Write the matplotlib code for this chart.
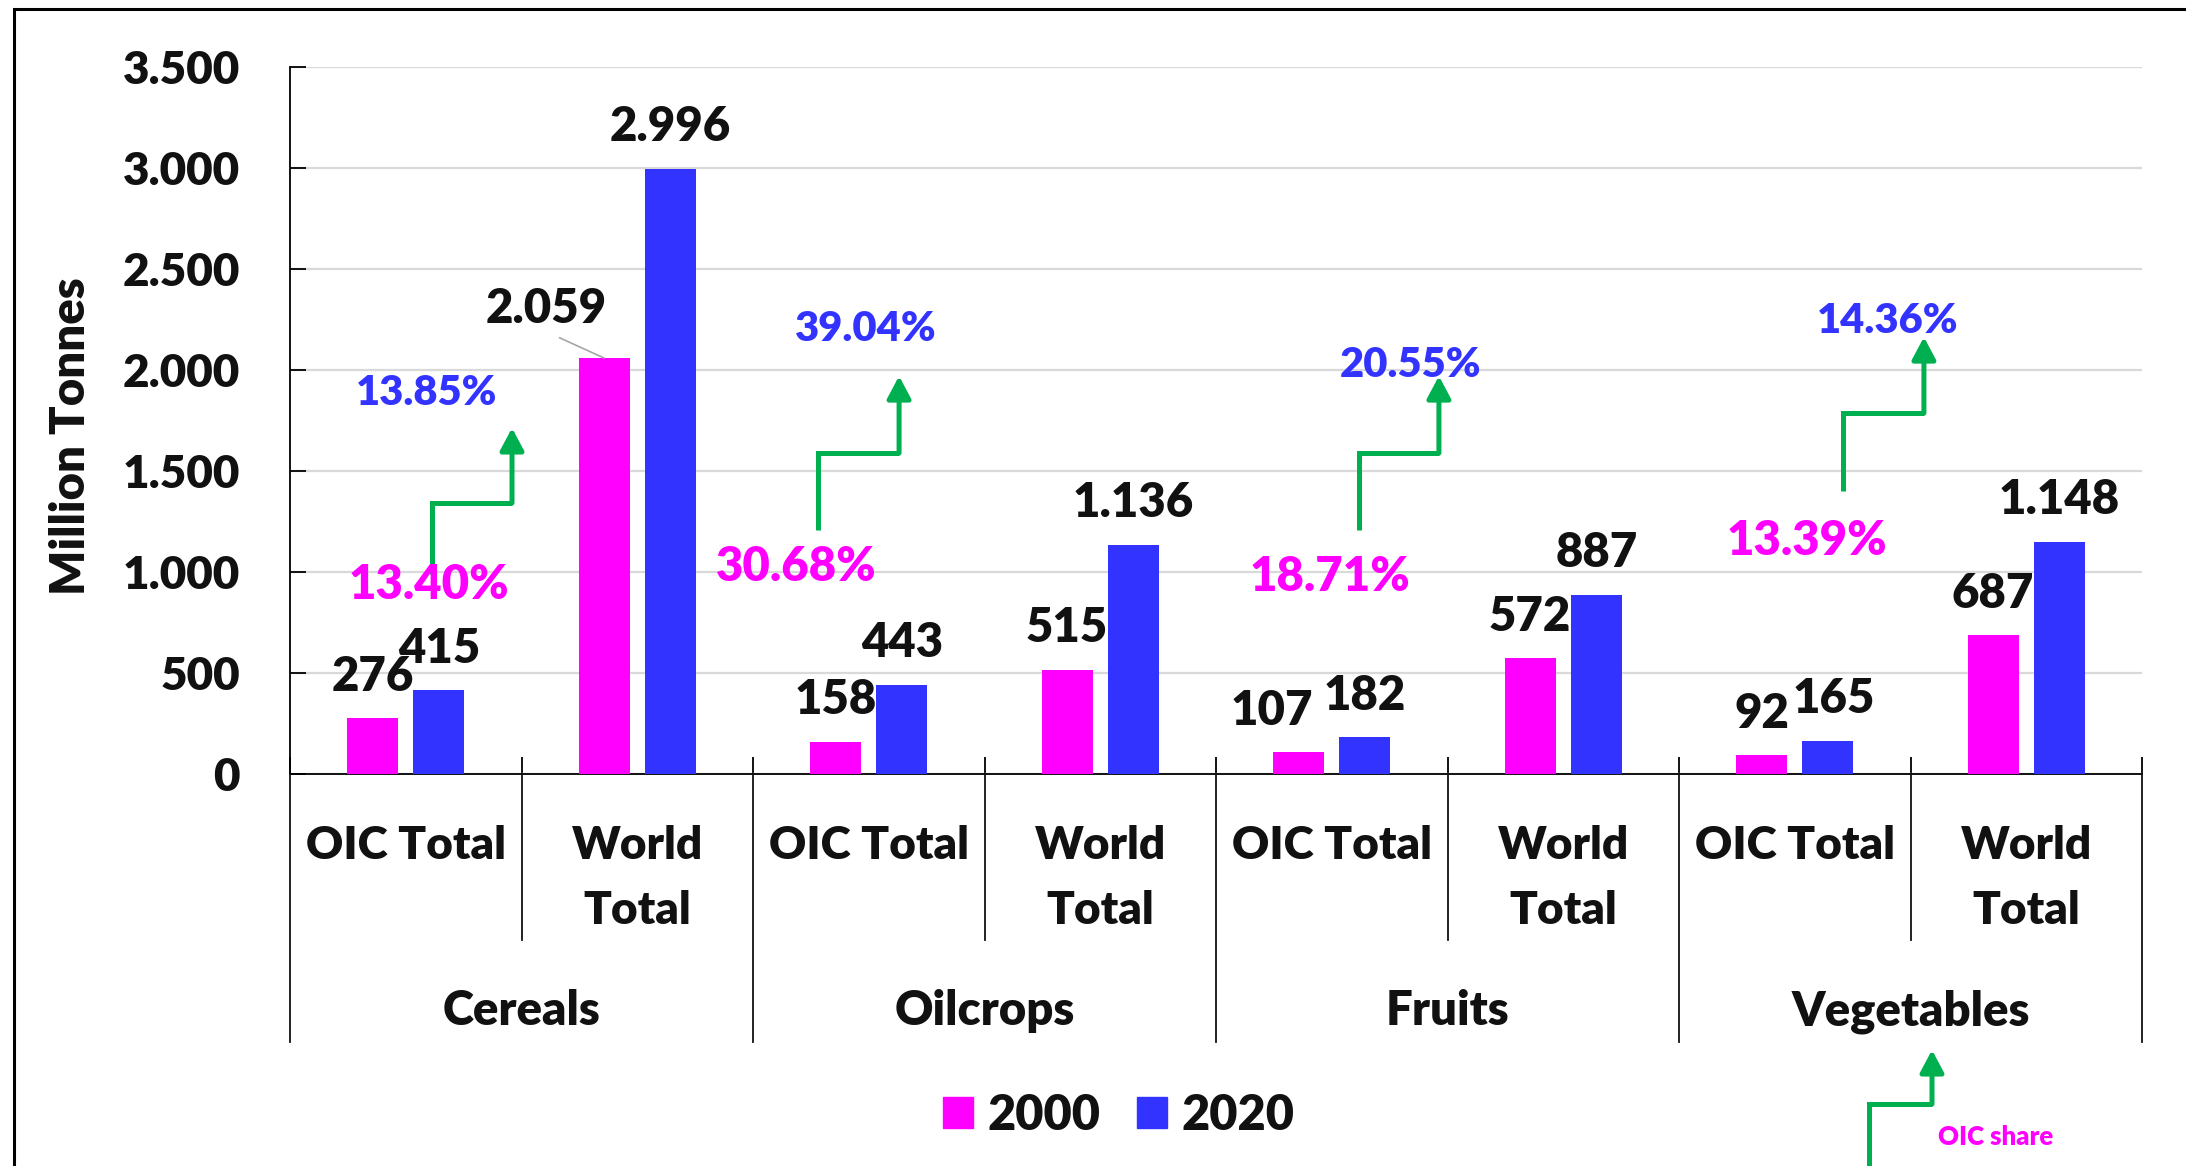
import matplotlib
matplotlib.use("Agg")
import matplotlib.pyplot as plt
import numpy as np
from matplotlib.lines import Line2D
from matplotlib.patches import FancyArrowPatch, Rectangle, Patch
from matplotlib.ticker import FuncFormatter, MultipleLocator
import matplotlib.transforms as mtransforms

plt.rcParams['font.family'] = ['Lato', 'DejaVu Sans']
plt.rcParams['font.weight'] = 'heavy'

# data
groups = ['Cereals', 'Oilcrops', 'Fruits', 'Vegetables']
subcats = ['OIC Total', 'World Total'] * 4
vals_2000 = [276, 2059, 158, 515, 107, 572, 92, 687]
vals_2020 = [415, 2996, 443, 1136, 182, 887, 165, 1148]
share_2000 = ['13.40%', '30.68%', '18.71%', '13.39%']
share_2020 = ['13.85%', '39.04%', '20.55%', '14.36%']
years = ['2000', '2020']

# annotation placement (x in category units, y in data units)
share_2000_pos = [(0.60, 936), (2.186, 1025), (4.492, 975), (6.553, 1153)]
share_2020_pos = [(0.592, 1886), (2.488, 2203), (4.842, 2025), (6.903, 2243)]
arrow_pts = [
    [(0.613, 990), (0.613, 1342), (0.959, 1342), (0.959, 1713)],
    [(2.281, 1208), (2.281, 1589), (2.631, 1589), (2.631, 1970)],
    [(4.618, 1208), (4.618, 1589), (4.963, 1589), (4.963, 1970)],
    [(6.708, 1401), (6.708, 1787), (7.058, 1787), (7.058, 2163)],
]
# label nudges in points (dx, dy) for 2000 / 2020 labels
nudge_2000 = [(0, 30), (-42, 35), (0, 30), (0, 30), (-19, 30), (0, 30), (0, 30), (0, 30)]
nudge_2020 = [(0, 30), (0, 30), (0, 30), (0, 30), (0, 30), (0, 30), (4, 30), (0, 30)]

c2000 = '#FF00FF'
c2020 = '#3333FF'
green = '#00B050'
txt = '#111111'

W, H = 2186, 1166
fig = plt.figure(figsize=(W / 100, H / 100), dpi=100)
ax = fig.add_axes([290 / W, 1 - 774 / H, (2142 - 290) / W, (774 - 67) / H])

x = np.arange(len(subcats)) + 0.5
bw = 0.22
off = 0.143
ax.bar(x - off, vals_2000, bw, color=c2000, zorder=3)
ax.bar(x + off, vals_2020, bw, color=c2020, zorder=3)

ax.set_xlim(0, 8)
ax.set_ylim(0, 3500)
ax.yaxis.set_major_locator(MultipleLocator(500))
fmt = lambda v: f"{int(round(v)):,}".replace(',', '.')
ax.yaxis.set_major_formatter(FuncFormatter(lambda v, p: fmt(v)))
ax.grid(axis='y', color='#D9D9D9', lw=1.6, zorder=0)
ax.set_axisbelow(True)
for s in ['top', 'right']:
    ax.spines[s].set_visible(False)
ax.spines['left'].set_linewidth(1.3)
ax.spines['bottom'].set_linewidth(1.3)
ax.tick_params(axis='y', direction='in', length=11.5, width=1.3, pad=36,
               labelsize=33, labelcolor=txt)
ax.set_xticks(np.arange(0, 9))
ax.tick_params(axis='x', direction='in', length=12, width=1.3, labelbottom=False)

# value labels
for i in range(len(subcats)):
    dx, dy = nudge_2000[i]
    if i == 1:
        ax.annotate(fmt(vals_2000[i]), (x[i] - off, vals_2000[i]), xytext=(dx, dy),
                    textcoords='offset points', ha='center', va='center',
                    fontsize=34, color=txt, zorder=5,
                    arrowprops=dict(arrowstyle='-', color='#A6A6A6', lw=1.2,
                                    relpos=(0.5, 0), shrinkA=6, shrinkB=0))
    else:
        ax.annotate(fmt(vals_2000[i]), (x[i] - off, vals_2000[i]), xytext=(dx, dy),
                    textcoords='offset points', ha='center', va='center',
                    fontsize=34, color=txt, zorder=5)
    dx, dy = nudge_2020[i]
    ax.annotate(fmt(vals_2020[i]), (x[i] + off, vals_2020[i]), xytext=(dx, dy),
                textcoords='offset points', ha='center', va='center',
                fontsize=34, color=txt, zorder=5)

# share labels and step arrows
def step_arrow(pts, trans, target):
    xs, ys = zip(*pts)
    line = Line2D(xs[:-1], ys[:-1], transform=trans, color=green, lw=3.6,
                  solid_joinstyle='miter', solid_capstyle='butt', clip_on=False, zorder=4)
    arr = FancyArrowPatch(pts[-2], pts[-1], transform=trans, color=green, lw=3.6,
                          arrowstyle='-|>,head_length=0.9,head_width=0.48', mutation_scale=15,
                          shrinkA=0, shrinkB=0, clip_on=False, zorder=4)
    target.add_artist(line)
    target.add_artist(arr)

for g in range(len(groups)):
    step_arrow(arrow_pts[g], ax.transData, ax)
    ax.text(*share_2000_pos[g], share_2000[g], color=c2000, fontsize=34,
            ha='center', va='center', zorder=6)
    ax.text(*share_2020_pos[g], share_2020[g], color=c2020, fontsize=30,
            ha='center', va='center', zorder=6)

# hierarchical category axis
bt = mtransforms.blended_transform_factory(ax.transData, fig.transFigure)
y_axis = 1 - 774 / H
for b in range(9):
    y_end = 1 - 1042 / H if b % 2 == 0 else 1 - 940 / H
    fig.add_artist(Line2D([b, b], [y_axis, y_end], transform=bt, color=txt, lw=1.3))
for i, lab in enumerate(subcats):
    parts = ['OIC Total'] if lab == 'OIC Total' else lab.split(' ')
    for k, p in enumerate(parts):
        fig.text(x[i], 1 - (859 + 65 * k) / H, p, transform=bt, ha='center',
                 va='baseline', fontsize=33, color=txt)
for g, lab in enumerate(groups):
    fig.text(2 * g + 1, 1 - 1025 / H, lab, transform=bt, ha='center',
             va='baseline', fontsize=34, color=txt)

fig.text(71 / W, 1 - 436 / H, 'Million Tonnes', rotation=90, ha='center',
         va='center', fontsize=34, color=txt)

# legend
handles = [Patch(color=c2000), Patch(color=c2020)]
fig.legend(handles, years, loc='center', bbox_to_anchor=(1119 / W, 1 - 1115 / H),
           ncol=2, frameon=False, fontsize=35, handlelength=0.62, handleheight=0.62,
           handletextpad=0.3, columnspacing=0.75, labelcolor=txt)

# legend-area note
fp = lambda px, py: (px / W, 1 - py / H)
step_arrow([fp(1869, 1180), fp(1869, 1104), fp(1932, 1104), fp(1932, 1050)],
           fig.transFigure, fig)
fig.text(1996 / W, 1 - 1145 / H, 'OIC share', color=c2000, fontsize=18.5,
         ha='center', va='baseline')

# outer frame
fig.add_artist(Rectangle((14 / W, -0.2), 1.5, 1 - 9 / H + 0.2, transform=fig.transFigure,
                         fill=False, edgecolor='black', lw=2.2))

fig.savefig('out.png', dpi=100)
